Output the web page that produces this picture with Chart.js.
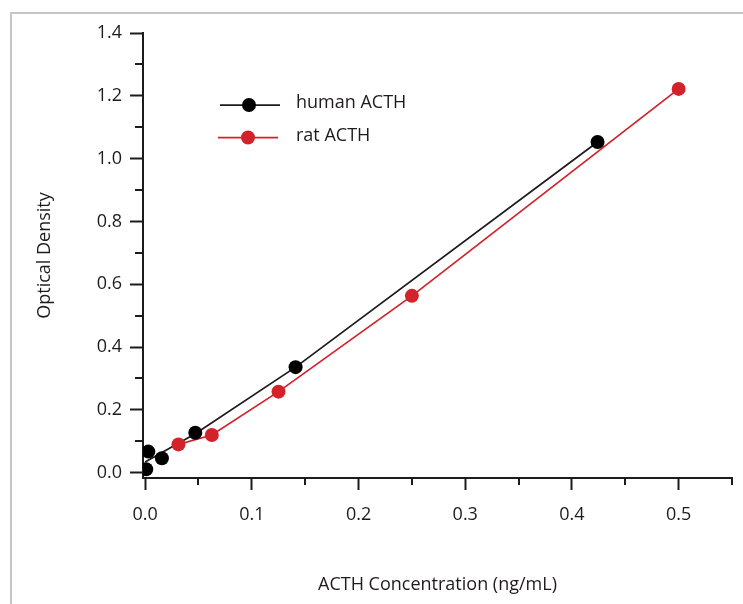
<!DOCTYPE html>
<html>
<head>
<meta charset="utf-8">
<script src="https://cdn.jsdelivr.net/npm/chart.js@4"></script>
<style>
  html, body { margin: 0; padding: 0; background: #fff; overflow: hidden; }
  body { width: 743px; height: 604px; position: relative; }
  #frame { position: absolute; left: 10px; top: 12px; width: 800px; height: 700px;
           border-left: 2px solid #c6c6c6; border-top: 2px solid #c6c6c6; }
  #chart { position: absolute; left: 0; top: 0; }
</style>
</head>
<body>
<div id="frame"></div>
<canvas id="chart" width="743" height="604"></canvas>
<script>
// human ACTH standards (measured points)
const humanConc = [0.001, 0.003, 0.0157, 0.047, 0.141, 0.424];
const humanOD   = [0.011, 0.067, 0.046, 0.127, 0.336, 1.053];
// human ACTH fitted curve
const humanFitConc = [0, 0.047, 0.141, 0.424];
const humanFitOD   = [0.034, 0.124, 0.336, 1.053];
// rat ACTH standards
const ratConc = [0.03125, 0.0625, 0.125, 0.25, 0.5];
const ratOD   = [0.09, 0.12, 0.258, 0.563, 1.222];

const xTicks = [0, 0.1, 0.2, 0.3, 0.4, 0.5];
const xMinor = [0.05, 0.15, 0.25, 0.35, 0.45, 0.55];
const yTicks = [0, 0.2, 0.4, 0.6, 0.8, 1.0, 1.2, 1.4];
const yMinor = [0.1, 0.3, 0.5, 0.7, 0.9, 1.1, 1.3];

const ink = "#1f1b1c";
const red = "#d2232a";
const font = { family: "'Open Sans', sans-serif", size: 18 };

const toXY = (xs, ys) => xs.map((x, i) => ({ x: x, y: ys[i] }));

// minor ticks + legend drawn on top
const extras = {
  id: "extras",
  afterDraw(chart) {
    const ctx = chart.ctx;
    const xs = chart.scales.x, ys = chart.scales.y;
    ctx.save();
    ctx.strokeStyle = ink;
    ctx.lineWidth = 2;
    xMinor.forEach(v => {
      const px = Math.round(xs.getPixelForValue(v));
      ctx.beginPath();
      ctx.moveTo(px, xs.top);
      ctx.lineTo(px, xs.top + 7);
      ctx.stroke();
    });
    yMinor.forEach(v => {
      const py = Math.round(ys.getPixelForValue(v));
      ctx.beginPath();
      ctx.moveTo(ys.right, py);
      ctx.lineTo(ys.right - 8, py);
      ctx.stroke();
    });

    // legend
    const rows = [
      { label: "human ACTH", color: "#000", line: ink, y: 105, x0: 220, x1: 280, mx: 249 },
      { label: "rat ACTH", color: red, line: red, y: 137.5, x0: 218, x1: 278, mx: 248 }
    ];
    ctx.font = font.size + "px " + font.family;
    ctx.textBaseline = "middle";
    ctx.textAlign = "left";
    rows.forEach(r => {
      ctx.strokeStyle = r.line;
      ctx.lineWidth = 1.75;
      ctx.beginPath();
      ctx.moveTo(r.x0, r.y);
      ctx.lineTo(r.x1, r.y);
      ctx.stroke();
      ctx.fillStyle = r.color;
      ctx.beginPath();
      ctx.arc(r.mx, r.y, 7, 0, Math.PI * 2);
      ctx.fill();
      ctx.fillStyle = ink;
      ctx.fillText(r.label, 296, r.y - 2);
    });
    ctx.restore();
  }
};

new Chart(document.getElementById("chart"), {
  type: "scatter",
  data: {
    datasets: [
      {
        label: "human ACTH",
        data: toXY(humanConc, humanOD),
        showLine: false,
        pointRadius: 7,
        pointBackgroundColor: "#000",
        pointBorderWidth: 0
      },
      {
        label: "rat ACTH",
        data: toXY(ratConc, ratOD),
        showLine: true,
        borderColor: red,
        borderWidth: 1.75,
        pointRadius: 7,
        pointBackgroundColor: red,
        pointBorderWidth: 0
      },
      {
        label: "human fit",
        data: toXY(humanFitConc, humanFitOD),
        showLine: true,
        borderColor: ink,
        borderWidth: 1.75,
        pointRadius: 0
      }
    ]
  },
  options: {
    responsive: false,
    animation: false,
    events: [],
    layout: { padding: { top: 33, right: 11, left: 0, bottom: 0 } },
    plugins: { legend: { display: false }, tooltip: { enabled: false } },
    scales: {
      x: {
        type: "linear",
        min: -0.002,
        max: 0.55,
        afterBuildTicks: s => { s.ticks = xTicks.map(v => ({ value: v })); },
        afterFit: s => { s.height = 126; },
        ticks: { font: font, color: ink, padding: 14, callback: v => v.toFixed(1), maxRotation: 0 },
        grid: { drawOnChartArea: false, tickLength: 12, tickWidth: 2, tickColor: ink },
        border: { color: ink, width: 2 },
        title: { display: true, text: "ACTH Concentration (ng/mL)", font: font, color: ink,
                 padding: { top: 0, bottom: 8 } }
      },
      y: {
        type: "linear",
        min: -0.017,
        max: 1.4,
        afterBuildTicks: s => { s.ticks = yTicks.map(v => ({ value: v })); },
        afterFit: s => { s.width = 143; },
        ticks: { font: font, color: ink, padding: 8, callback: v => v.toFixed(1) },
        grid: { drawOnChartArea: false, tickLength: 13, tickWidth: 2, tickColor: ink },
        border: { color: ink, width: 2 },
        title: { display: true, text: "Optical Density", font: font, color: ink,
                 padding: { top: 34, bottom: 0 } }
      }
    }
  },
  plugins: [extras]
});
</script>
</body>
</html>
